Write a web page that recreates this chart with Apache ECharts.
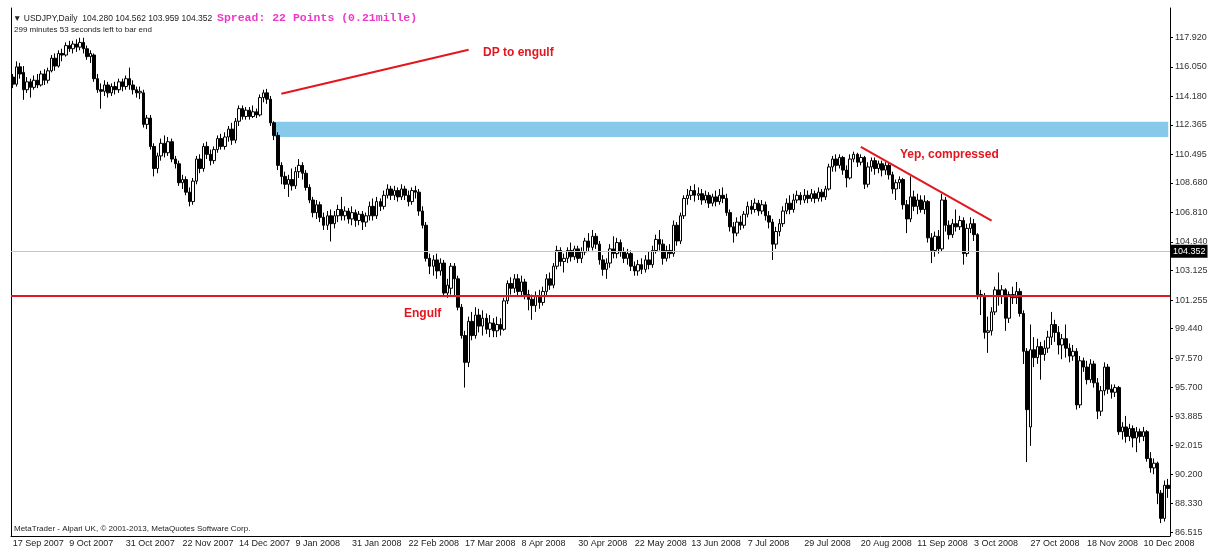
<!DOCTYPE html>
<html>
<head>
<meta charset="utf-8">
<script src="https://cdn.jsdelivr.net/npm/echarts@6/dist/echarts.min.js"></script>
<style>
  html, body { margin: 0; padding: 0; background: #fff; }
  #chart { width: 1213px; height: 548px; }
</style>
</head>
<body>
<div id="chart"></div>
<script>
// USDJPY daily candles, [open, close, low, high]
const bars2007 = [
  [115.40,114.95,114.70,115.60],[114.95,116.05,114.80,116.40],[116.05,115.60,115.30,116.30],[115.70,114.60,113.96,116.10],
  [114.60,115.10,114.40,115.40],[115.10,114.75,114.10,115.30],[114.75,115.20,114.60,115.50],[115.20,114.90,114.70,115.60],
  [114.90,115.60,114.80,115.80],[115.60,115.20,114.90,115.90],[115.20,115.80,115.00,116.00],[115.80,116.60,115.70,116.80],
  [116.60,116.10,115.80,116.90],[116.10,116.90,116.00,117.10],[116.90,116.80,116.40,117.20],[116.80,117.40,116.70,117.60],
  [117.40,117.20,117.00,117.70],[117.20,117.50,116.90,117.70],[117.50,117.30,117.00,117.80],[117.30,117.60,117.10,117.90],
  [117.60,117.20,116.90,117.90],[117.20,116.70,116.50,117.40],[116.70,116.90,116.30,117.10],[116.80,115.30,115.10,116.90],
  [115.30,114.60,114.40,115.60],[114.60,114.50,113.40,115.00],[114.50,114.90,114.20,115.20],[114.90,114.40,114.10,115.10],
  [114.40,114.80,114.20,115.00],[114.80,114.60,114.30,115.10],[114.60,115.10,114.40,115.30],[115.10,114.80,114.50,115.30],
  [114.80,115.30,114.60,115.50],[115.30,114.90,114.60,116.00],[114.90,114.60,114.30,115.20],[114.60,114.40,114.10,114.80],
  [114.40,114.50,114.00,114.80],[114.40,112.40,112.20,114.60],[112.40,112.80,112.10,113.00],[112.80,111.00,110.80,113.00],
  [111.00,109.60,109.10,111.20],[109.60,110.40,109.30,110.60],[110.40,111.20,110.10,111.50],[111.20,110.60,110.30,111.70],
  [110.60,111.30,110.40,111.60],[111.30,110.20,110.00,111.50],[110.20,109.90,109.60,110.40],[109.90,108.70,108.50,110.10],
  [108.70,108.90,108.30,109.20],[108.90,108.10,107.90,109.10],[108.10,107.50,107.20,108.40],[107.50,108.80,107.30,109.00],
  [108.80,110.20,108.60,110.40],[110.20,109.60,109.30,110.50],[109.60,111.00,109.40,111.20],[111.00,110.50,110.20,111.30],
  [110.50,110.10,109.80,110.80],[110.10,110.80,109.90,111.00],[110.80,111.50,110.60,111.70],[111.50,111.00,110.80,111.80],
  [111.00,111.60,110.80,111.90],[111.60,112.10,111.30,112.30],[112.10,111.40,111.10,112.50],[111.40,112.60,111.20,112.80],
  [112.60,113.40,112.30,113.60],[113.40,112.90,112.70,113.60],[112.90,113.30,112.70,113.50],[113.30,112.90,112.70,113.50],
  [112.90,113.20,112.80,113.60],[113.20,113.00,112.80,113.40],[113.00,114.10,112.90,114.30],[114.10,114.40,113.80,114.60],
  [114.40,114.00,113.70,114.65],[114.00,112.50,112.30,114.20],[112.50,111.70,111.40,112.60]
];
const bars2008q1 = [
  [111.70,109.80,109.50,111.90],[109.80,109.10,108.60,110.00],[109.10,108.60,108.30,109.40],[108.60,108.90,107.80,109.20],
  [108.90,108.50,108.20,109.60],[108.50,109.40,108.30,109.70],[109.40,109.80,109.00,110.20],[109.80,109.30,108.90,110.00],
  [109.30,108.40,108.20,109.50],[108.40,107.60,107.40,108.60],[107.60,106.80,106.50,107.80],[106.80,107.30,106.40,107.60],
  [107.30,106.50,106.20,107.50],[106.50,106.00,105.70,106.80],[106.00,106.60,105.70,106.90],[106.60,106.10,104.97,107.00],
  [106.10,106.60,105.80,106.90],[106.60,107.00,106.20,107.30],[107.00,106.60,106.30,107.80],[106.60,106.90,106.30,107.20],
  [106.90,106.40,106.10,107.10],[106.40,106.80,106.00,107.20],[106.80,106.30,105.90,107.00],[106.30,106.70,106.00,106.90],
  [106.70,106.20,105.70,106.90],[106.20,106.60,105.90,106.80],[106.60,107.20,106.30,107.50],[107.20,106.60,106.30,107.70],
  [106.60,107.50,106.40,107.80],[107.50,107.20,106.90,107.70],[107.20,107.90,107.00,108.20],[107.90,108.30,107.70,108.60],
  [108.30,107.90,107.60,108.50],[107.90,108.20,107.60,108.50],[108.20,107.80,107.50,108.40],[107.80,108.30,107.60,108.60],
  [108.30,107.90,107.60,108.50],[107.90,107.50,107.20,108.20],[107.50,108.20,107.30,108.40],[108.20,108.10,107.70,108.50],
  [108.10,106.90,106.60,108.30],[106.90,106.00,105.80,107.20],[106.00,103.90,103.70,106.20],[103.90,103.40,102.90,104.20],
  [103.40,103.80,102.80,104.10],[103.80,103.10,102.60,104.20],[103.10,103.60,102.80,103.90],[103.60,101.70,101.50,103.80],
  [101.70,102.20,101.40,102.60],[102.00,103.40,101.60,103.60],[103.40,102.60,101.50,103.60],[102.60,100.80,100.60,102.80],
  [100.80,99.00,98.80,101.00],[99.00,97.30,95.70,99.30],[97.30,99.90,97.00,100.20],[99.90,99.00,98.70,100.50],
  [99.00,100.30,98.80,100.80],[100.30,99.60,99.20,100.70],[99.60,100.10,99.00,100.60],[100.10,99.40,99.10,100.40],
  [99.40,99.80,98.90,100.30],[99.80,99.30,98.90,100.10],[99.30,99.70,98.90,100.20],[99.70,99.40,99.00,100.10]
];
const bars2008q2 = [
  [99.40,101.20,99.30,101.40],[101.20,102.30,101.00,102.50],[102.30,102.00,101.60,102.70],[102.00,102.60,101.70,102.90],
  [102.60,101.80,101.50,102.90],[101.80,102.40,101.50,102.80],[102.40,101.60,101.30,102.60],[101.60,101.30,100.60,101.90],
  [101.30,100.90,100.00,101.60],[100.90,101.50,100.50,101.80],[101.50,101.10,100.70,101.90],[101.10,101.80,100.90,102.10],
  [101.80,102.60,101.50,102.90],[102.60,102.20,101.90,103.00],[102.20,103.40,102.00,103.60],[103.40,104.40,103.20,104.70],
  [104.40,103.70,103.40,104.60],[103.70,103.90,103.00,104.20],[103.90,104.40,103.60,104.60],[104.40,104.00,103.70,104.90],
  [104.00,104.50,103.80,104.70],[104.50,103.90,103.60,104.70],[103.90,104.30,103.60,104.60],[104.30,105.00,104.10,105.20],
  [105.00,104.60,104.30,105.50],[104.60,105.30,104.40,105.70],[105.30,104.80,104.50,105.50],[104.80,103.80,103.50,105.00],
  [103.80,103.20,102.80,104.10],[103.20,103.60,102.60,103.90],[103.60,104.50,103.30,104.80],[104.50,104.20,103.90,105.30],
  [104.20,104.90,103.90,105.20],[104.90,104.30,104.00,105.10],[104.30,103.90,103.60,104.60],[103.90,104.20,103.50,104.50],
  [104.20,103.40,103.10,104.40],[103.40,103.10,102.80,103.70],[103.10,103.50,102.80,103.80],[103.50,103.20,102.90,103.90],
  [103.20,103.80,103.00,104.10],[103.80,103.50,103.20,104.30],[103.50,104.40,103.30,104.70],[104.40,105.10,104.20,105.40],
  [105.10,104.80,104.40,105.70],[104.80,103.90,103.50,105.10],[103.90,104.40,103.70,104.70],[104.40,104.20,103.90,104.80],
  [104.20,106.00,104.00,106.30],[106.00,105.00,104.70,106.20],[105.00,106.60,104.80,106.80],[106.60,107.70,106.40,107.90],
  [107.70,107.90,107.30,108.30],[107.90,108.20,107.60,108.50],[108.20,107.90,107.50,108.60],[107.90,108.00,107.60,108.40],
  [108.00,107.60,107.30,108.30],[107.60,107.90,107.40,108.20],[107.90,107.40,107.10,108.10],[107.40,107.80,107.20,108.00],
  [107.80,107.50,107.20,108.20],[107.50,107.90,107.30,108.30],[107.90,107.70,107.40,108.40],[107.70,106.80,106.60,108.00],
  [106.80,105.90,105.60,107.00]
];
const bars2008q3 = [
  [105.90,105.50,104.90,106.20],[105.50,106.20,105.30,106.50],[106.20,106.00,105.70,106.60],[106.00,106.70,105.80,106.90],
  [106.70,107.20,106.50,107.50],[107.20,107.00,106.70,107.60],[107.00,107.40,106.80,107.70],[107.40,106.90,106.60,107.60],
  [106.90,107.30,106.70,107.60],[107.30,106.60,106.30,107.50],[106.60,106.20,105.80,106.90],[106.20,104.80,103.80,106.40],
  [104.80,105.60,104.50,105.90],[105.60,106.10,105.30,106.40],[106.10,106.90,105.90,107.20],[106.90,107.40,106.70,107.70],
  [107.40,107.00,106.70,107.90],[107.00,107.60,106.80,108.00],[107.60,107.90,107.40,108.20],[107.90,107.60,107.30,108.10],
  [107.60,107.90,107.40,108.30],[107.90,107.70,107.40,108.20],[107.70,108.00,107.50,108.30],[108.00,107.70,107.40,108.20],
  [107.70,108.10,107.50,108.40],[108.10,107.80,107.50,108.30],[107.80,108.30,107.60,108.50],[108.30,109.70,108.20,109.90],
  [109.70,110.20,109.40,110.40],[110.20,109.80,109.40,110.50],[109.80,110.30,109.60,110.50],[110.30,109.50,109.20,110.40],
  [109.50,109.00,108.40,109.80],[109.00,110.20,108.90,110.50],[110.20,110.50,110.00,110.67],[110.50,110.00,109.70,110.60],
  [110.00,110.30,109.80,110.50],[110.30,108.60,108.30,110.40],[108.60,109.70,108.40,110.00],[109.70,110.10,109.40,110.30],
  [110.10,109.60,109.20,110.30],[109.60,109.90,109.30,110.10],[109.90,109.50,109.10,110.10],[109.50,109.80,109.20,110.00],
  [109.80,109.20,108.90,110.00],[109.20,108.30,108.00,109.40],[108.30,108.70,107.60,108.90],[108.70,108.90,108.30,109.10],
  [108.90,107.30,107.00,109.00],[107.30,106.40,105.50,107.60],[106.40,107.80,106.20,109.10],[107.80,107.20,106.90,108.20],
  [107.20,107.60,106.70,108.00],[107.60,107.00,106.80,107.90],[107.00,107.50,106.70,107.90],[107.50,105.20,104.90,107.60],
  [105.20,104.40,103.60,105.50],[104.40,105.30,104.00,105.60],[105.30,104.50,104.20,105.70],[104.50,107.60,104.30,108.00],
  [107.60,106.00,105.60,107.80],[106.00,105.40,105.10,106.30],[105.40,106.10,105.20,106.40],[106.10,105.90,105.60,107.00],
  [105.90,106.30,105.70,106.60],[106.30,104.20,103.50,106.50]
];
const bars2008q4 = [
  [104.20,105.80,104.00,106.10],[105.80,106.10,105.50,106.50],[106.10,105.40,105.00,106.40],
  [105.40,101.60,101.30,105.50],[101.60,101.50,100.30,101.90],[101.50,99.20,98.80,101.70],[99.20,99.30,97.90,100.20],
  [99.30,100.50,99.00,100.80],[100.50,101.90,100.30,102.10],[101.90,101.50,100.90,103.00],[101.50,101.90,101.00,102.20],
  [101.90,100.10,99.30,102.00],[100.10,101.60,99.80,101.80],[101.60,101.40,101.00,102.10],[101.40,101.80,101.00,102.40],
  [101.80,100.40,100.20,102.00],[100.40,98.00,97.20,100.60],[98.00,94.30,90.97,98.20],[93.20,98.10,92.00,99.70],
  [98.10,97.60,97.00,98.90],[97.60,98.30,97.20,98.80],[98.30,97.80,96.20,98.60],[97.80,98.20,97.40,98.70],
  [98.20,98.90,97.90,99.30],[98.90,99.70,98.40,100.50],[99.70,99.20,98.60,100.00],[99.20,98.40,97.80,99.60],
  [98.40,98.80,97.50,99.10],[98.80,98.20,97.60,99.70],[98.20,97.70,97.30,98.50],[97.70,98.00,97.40,98.40],
  [98.00,94.60,94.30,98.20],[94.60,97.40,94.40,97.70],[97.40,97.00,96.70,97.60],[97.00,96.20,95.90,97.40],
  [96.20,97.20,96.00,97.50],[97.20,96.00,95.70,97.40],[96.00,94.20,93.70,96.30],[94.20,95.50,93.90,95.80],
  [95.50,97.00,95.20,97.30],[97.00,95.60,95.30,97.20],[95.60,95.40,95.00,95.90],[95.40,95.70,95.10,95.90],
  [95.70,92.90,92.70,95.80],[92.90,93.20,92.40,93.50],[93.20,92.60,92.20,93.90],[92.60,93.10,92.30,93.40],
  [93.10,92.50,91.90,93.30],[92.50,92.90,91.60,93.20],[92.90,92.60,92.20,93.10],[92.60,92.90,92.30,93.20],
  [92.90,91.20,91.00,93.00],[91.20,90.60,90.30,91.60],[90.60,90.90,90.20,91.20],[90.90,89.00,88.30,91.00],
  [89.00,87.40,87.10,89.20],[87.40,89.50,87.20,89.80],[89.50,89.30,88.70,89.90]
];

const yTicks = [117.920, 116.050, 114.180, 112.365, 110.495, 108.680, 106.810, 104.940, 103.125,
  101.255, 99.440, 97.570, 95.700, 93.885, 92.015, 90.200, 88.330, 86.515];

const bidPrice = 104.352;
const engulfLevel = 101.54;
const ftrZone = [111.60, 112.56];
const months = ['Jan','Feb','Mar','Apr','May','Jun','Jul','Aug','Sep','Oct','Nov','Dec'];

// trading days, weekends and 25 Dec / 1 Jan left out
const dates = [];
for (let d = Date.UTC(2007, 8, 17); d <= Date.UTC(2008, 11, 19); d += 86400000) {
  const t = new Date(d);
  const wd = t.getUTCDay();
  if (wd === 0 || wd === 6) continue;
  const m = t.getUTCMonth(), day = t.getUTCDate();
  if ((m === 11 && day === 25) || (m === 0 && day === 1)) continue;
  dates.push(day + ' ' + months[m] + ' ' + t.getUTCFullYear());
}

const candles = bars2007.concat(bars2008q1, bars2008q2, bars2008q3, bars2008q4);
const yMin = 86.281, yMax = 119.785;
const red = '#e3161f';

const chart = echarts.init(document.getElementById('chart'), null, { renderer: 'canvas' });

const option = {
  animation: false,
  backgroundColor: '#ffffff',
  textStyle: { fontFamily: 'Liberation Sans' },
  grid: { left: 11, right: 43, top: 8, bottom: 11 },
  xAxis: {
    type: 'category',
    data: dates,
    boundaryGap: true,
    axisLine: { lineStyle: { color: '#000', width: 1 } },
    axisTick: { alignWithLabel: true, interval: 15, length: 4, lineStyle: { color: '#000' } },
    axisLabel: { interval: 15, align: 'left', margin: 3, fontSize: 9, color: '#222' },
    splitLine: { show: false }
  },
  yAxis: [{
    type: 'value',
    position: 'right',
    min: yMin,
    max: yMax,
    axisLine: { show: true, lineStyle: { color: '#000' } },
    axisTick: { show: true, customValues: yTicks, length: 3, lineStyle: { color: '#000' } },
    axisLabel: { customValues: yTicks, formatter: (v) => v.toFixed(3), fontSize: 9, color: '#333', margin: 5 },
    splitLine: { show: false }
  }, {
    type: 'value',
    position: 'left',
    min: yMin,
    max: yMax,
    axisLine: { show: true, lineStyle: { color: '#000' } },
    axisTick: { show: false },
    axisLabel: { show: false },
    splitLine: { show: false }
  }],
  series: [{
    type: 'candlestick',
    data: candles,
    barWidth: 3,
    itemStyle: {
      color: '#ffffff',
      color0: '#000000',
      borderColor: '#000000',
      borderColor0: '#000000',
      borderWidth: 1
    },
    markArea: {
      silent: true,
      itemStyle: { color: '#86c9e8', opacity: 1 },
      data: [[{ xAxis: dates[74], yAxis: ftrZone[1] }, { xAxis: dates[dates.length - 1], yAxis: ftrZone[0] }]]
    },
    markLine: {
      silent: true,
      symbol: ['none', 'none'],
      data: [
        { yAxis: bidPrice, lineStyle: { color: '#c4c4c4', width: 1, type: 'solid' },
          label: { show: true, position: 'end', formatter: bidPrice.toFixed(3), color: '#fff',
            backgroundColor: '#000', padding: [2, 2], fontSize: 9, distance: 1 } },
        { yAxis: engulfLevel, lineStyle: { color: red, width: 2, type: 'solid' }, label: { show: false } },
        [{ coord: [dates[76], 114.34], lineStyle: { color: red, width: 2, type: 'solid' }, label: { show: false } },
         { coord: [dates[129], 117.13] }],
        [{ coord: [dates[240], 110.98], lineStyle: { color: red, width: 2, type: 'solid' }, label: { show: false } },
         { coord: [dates[277], 106.29] }]
      ]
    }
  }],
  graphic: [
    { type: 'text', left: 13, top: 14, style: { text: '\u25BC USDJPY,Daily  104.280 104.562 103.959 104.352', fill: '#222', font: '8.5px "Liberation Sans"' } },
    { type: 'text', left: 217, top: 12, style: { text: 'Spread: 22 Points (0.21mille)', fill: '#ee38c8', font: 'bold 11.5px "Liberation Mono"' } },
    { type: 'text', left: 14, top: 26, style: { text: '299 minutes 53 seconds left to bar end', fill: '#222', font: '8px "Liberation Sans"' } },
    { type: 'text', left: 14, top: 525, style: { text: 'MetaTrader - Alpari UK, \u00A9 2001-2013, MetaQuotes Software Corp.', fill: '#222', font: '8px "Liberation Sans"' } },
    { type: 'text', left: 483, top: 47, style: { text: 'DP to engulf', fill: red, font: 'bold 12px "Liberation Sans"' } },
    { type: 'text', left: 298, top: 122, style: { text: 'Untouched FTR', fill: red, font: 'bold 12px "Liberation Sans"' } },
    { type: 'text', left: 900, top: 149, style: { text: 'Yep, compressed', fill: red, font: 'bold 12px "Liberation Sans"' } },
    { type: 'text', left: 404, top: 308, style: { text: 'Engulf', fill: red, font: 'bold 12px "Liberation Sans"' } }
  ]
};

chart.setOption(option);
</script>
</body>
</html>
